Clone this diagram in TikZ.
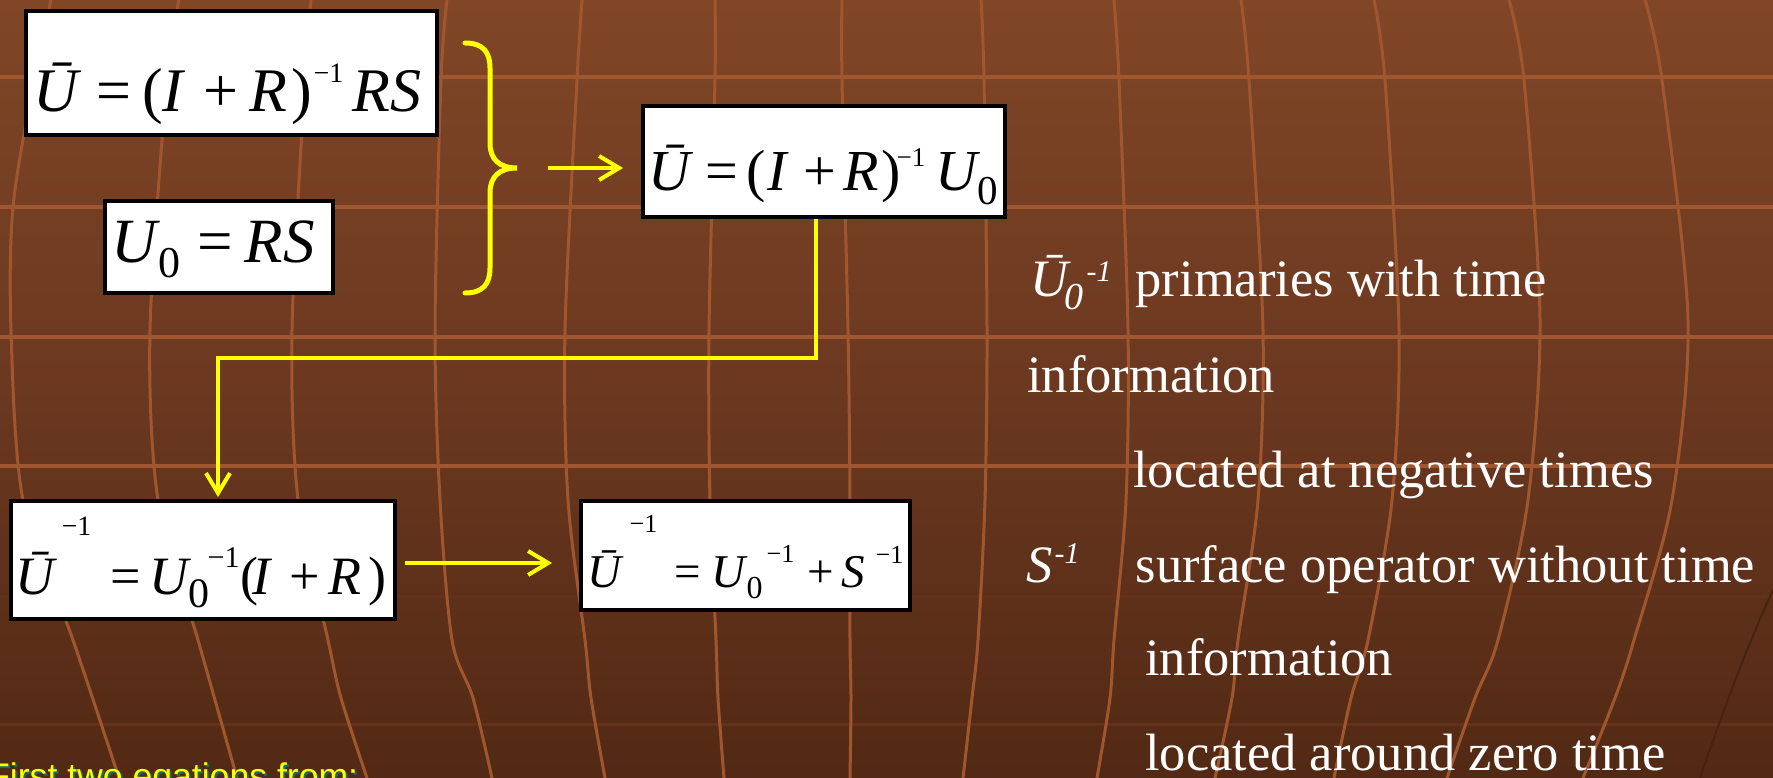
\documentclass[tikz,border=0pt]{standalone}
\usepackage{fontspec}
\setmainfont{Liberation Serif}
\newfontfamily\arialf{Liberation Sans}
\usetikzlibrary{arrows.meta}
\newcommand\gl[3]{\rlap{\hspace*{#1pt}\raisebox{#2pt}{#3}}}
\newcommand\fsz[1]{\fontsize{#1}{#1}\selectfont}
\definecolor{bgtop}{RGB}{128,70,38}
\definecolor{bgmid}{RGB}{107,56,32}
\definecolor{bgbot}{RGB}{82,41,20}
\definecolor{gridc}{RGB}{160,86,46}
\definecolor{gridfaint}{RGB}{100,50,26}
\definecolor{darkline}{RGB}{70,35,17}
\definecolor{ylw}{RGB}{255,255,0}
\definecolor{shad}{RGB}{20,110,110}
\begin{document}
\begin{tikzpicture}[x=1pt,y=-1pt,
  eqbox/.style={draw=black,line width=4pt,fill=white,inner sep=0pt},
  eqtxt/.style={anchor=base west,inner sep=0pt,text=black},
  wtxt/.style={anchor=base west,inner sep=0pt,text=white,font=\fsz{52.5}},
  gridline/.style={draw=gridc,line width=3pt},
  hline/.style={draw=gridc,line width=3.5pt},
  arr/.style={draw=ylw,line width=4pt,-{Straight Barb[length=20pt,width=24pt]}},
  ytxt/.style={anchor=base west,inner sep=0pt,font=\arialf\fsz{35.6}}
]
\useasboundingbox (0,0) rectangle (1773,778);
\clip (0,0) rectangle (1773,778);
\shade[top color=bgtop,bottom color=bgbot,middle color=bgmid] (0,0) rectangle (1773,778);
% grid
\foreach \yy in {77,207,337,466} \draw[hline] (0,\yy) -- (1773,\yy);
\foreach \yy in {596,724} \draw[draw=gridfaint,line width=3pt] (0,\yy) -- (1773,\yy);
\draw[gridline] plot[smooth] coordinates {(51,0) (34,80) (13,207) (11,330) (23,500) (73,640) (119,778)};
\draw[gridline] plot[smooth] coordinates {(179,0) (167,80) (150,330) (158,500) (198,640) (237,778)};
\draw[gridline] plot[smooth] coordinates {(311,0) (305,80) (292,330) (298,500) (328,640) (341,698) (367,778)};
\draw[gridline] plot[smooth] coordinates {(447,0) (441,80) (435,330) (440,500) (452,640) (473,698) (492,778)};
\draw[gridline] plot[smooth] coordinates {(582,0) (577,80) (565,330) (568,500) (585,640) (591,698) (605,778)};
\draw[gridline] plot[smooth] coordinates {(715,0) (715,80) (709,330) (710,500) (716,640) (718,698) (724,778)};
\draw[gridline] plot[smooth] coordinates {(842,0) (842,80) (848,330) (850,500) (850,640) (851,698) (850,778)};
\draw[gridline] plot[smooth] coordinates {(981,0) (984,80) (987,330) (985,500) (978,640) (972,698) (963,778)};
\draw[gridline] plot[smooth] coordinates {(1114,0) (1119,80) (1128,330) (1126,500) (1114,640) (1110,698) (1097,778)};
\draw[gridline] plot[smooth] coordinates {(1241,0) (1249,80) (1263,330) (1258,500) (1238,640) (1232,698) (1215,778)};
\draw[gridline] plot[smooth] coordinates {(1374,0) (1385,80) (1399,330) (1392,500) (1368,640) (1351,698) (1334,778)};
\draw[gridline] plot[smooth] coordinates {(1509,0) (1524,80) (1540,320) (1528,500) (1498,640) (1475,698) (1447,778)};
\draw[gridline] plot[smooth] coordinates {(1645,0) (1662,80) (1688,320) (1672,500) (1634,640) (1615,698) (1583,778)};
\draw[draw=darkline,line width=2pt] (1773,590) .. controls (1745,650) and (1720,720) .. (1700,778);
% boxes
\node[eqbox,minimum width=411pt,minimum height=124pt] (b1) at (231.5,73) {};
\node[eqbox,minimum width=228pt,minimum height=92pt] (b2) at (219,247) {};
\node[eqbox,minimum width=362pt,minimum height=111pt] (b3) at (824,161.5) {};
\node[eqbox,minimum width=384pt,minimum height=118pt] (b4) at (203,560) {};
\node[eqbox,minimum width=329pt,minimum height=109pt] (b5) at (745.5,555.5) {};
% equations
\node[eqtxt] (t1) at (0,112) {\fsz{62}%
\gl{33}{0}{\itshape Ū}\gl{96}{0}{=}\gl{142}{0}{(}\gl{162}{0}{\itshape I}%
\gl{203}{0}{+}\gl{249}{0}{\itshape R}\gl{291}{0}{)}\gl{313}{29}{\fsz{28}−1}%
\gl{352}{0}{\itshape RS}};
\node[eqtxt] (t2) at (0,263) {\fsz{63}%
\gl{111}{0}{\itshape U}\gl{158}{-15}{\fsz{44}0}\gl{197}{0}{=}\gl{244}{0}{\itshape RS}};
\node[eqtxt] (t3) at (0,191) {\fsz{58}%
\gl{648}{0}{\itshape Ū}\gl{705}{0}{=}\gl{746}{0}{(}\gl{767}{0}{\itshape I}%
\gl{803}{0}{+}\gl{843}{0}{\itshape R}\gl{881}{0}{)}\gl{896}{24}{\fsz{27}−1}%
\gl{935}{0}{\itshape U}\gl{977}{-14}{\fsz{41}0}};
\node[eqtxt] (t4) at (0,594) {\fsz{54}%
\gl{15}{0}{\itshape Ū}\gl{61}{59}{\fsz{28}−1}\gl{110}{0}{=}%
\gl{149}{0}{\itshape U}\gl{188}{-13}{\fsz{42}0}\gl{207}{27}{\fsz{30}−1}%
\gl{240}{0}{(}\gl{252}{0}{\itshape I}\gl{289}{0}{+}\gl{328}{0}{\itshape R}\gl{368}{0}{)}};
\node[eqtxt] (t5) at (0,587) {\fsz{47}%
\gl{587}{0}{\itshape Ū}\gl{629}{55}{\fsz{26}−1}\gl{674}{0}{=}%
\gl{711}{0}{\itshape U}\gl{746}{-11}{\fsz{32}0}\gl{766}{25}{\fsz{26}−1}%
\gl{807}{0}{+}\gl{841}{0}{\itshape S}\gl{875}{24}{\fsz{26}−1}};
% brace and connectors
\draw[draw=ylw,line width=5pt,line cap=round] (465,43) .. controls (483,43) and (490,52) .. (490,68) -- (490,143) .. controls (490,160) and (500,168) .. (517,168) .. controls (500,168) and (490,176) .. (490,193) -- (490,268) .. controls (490,284) and (483,293) .. (465,293);
\coordinate (bt) at (548,168);
\draw[arr,shorten >=18pt] (bt) -- (bt -| b3.west);
\coordinate (e1) at (816,358);
\coordinate (e2) at (218,358);
\draw[arr,line join=miter,shorten >=2pt] (b3.south -| e1) -- (e1) -- (e2) -- (e2 |- b4.north);
\coordinate (a45) at (0,563);
\draw[arr,shorten <=8pt,shorten >=27pt] (b4.east |- a45) -- (b5.west |- a45);
% right-hand explanations
\node[wtxt] (r1) at (0,297) {\gl{1030}{0}{\itshape Ū}\gl{1064}{-13}{\fsz{38}\itshape 0}\gl{1086}{15}{\fsz{30}\itshape -1}\gl{1135}{0}{primaries with time}};
\node[wtxt] (r2) at (1027,392) {information};
\node[wtxt] (r3) at (1133,487) {located at negative times};
\node[wtxt] (r4) at (0,582) {\gl{1026}{0}{\itshape S}\gl{1054}{19}{\fsz{30}\itshape -1}\gl{1135}{0}{surface operator without time}};
\node[wtxt] (r5) at (1145,675) {information};
\node[wtxt] (r6) at (1145,770) {located around zero time};
% bottom caption
\node[ytxt,text=shad] (y0) at (-10,790) {First two eqations from:};
\node[ytxt,text=ylw] (y1) at (-12,788) {First two eqations from:};
\end{tikzpicture}
\end{document}
